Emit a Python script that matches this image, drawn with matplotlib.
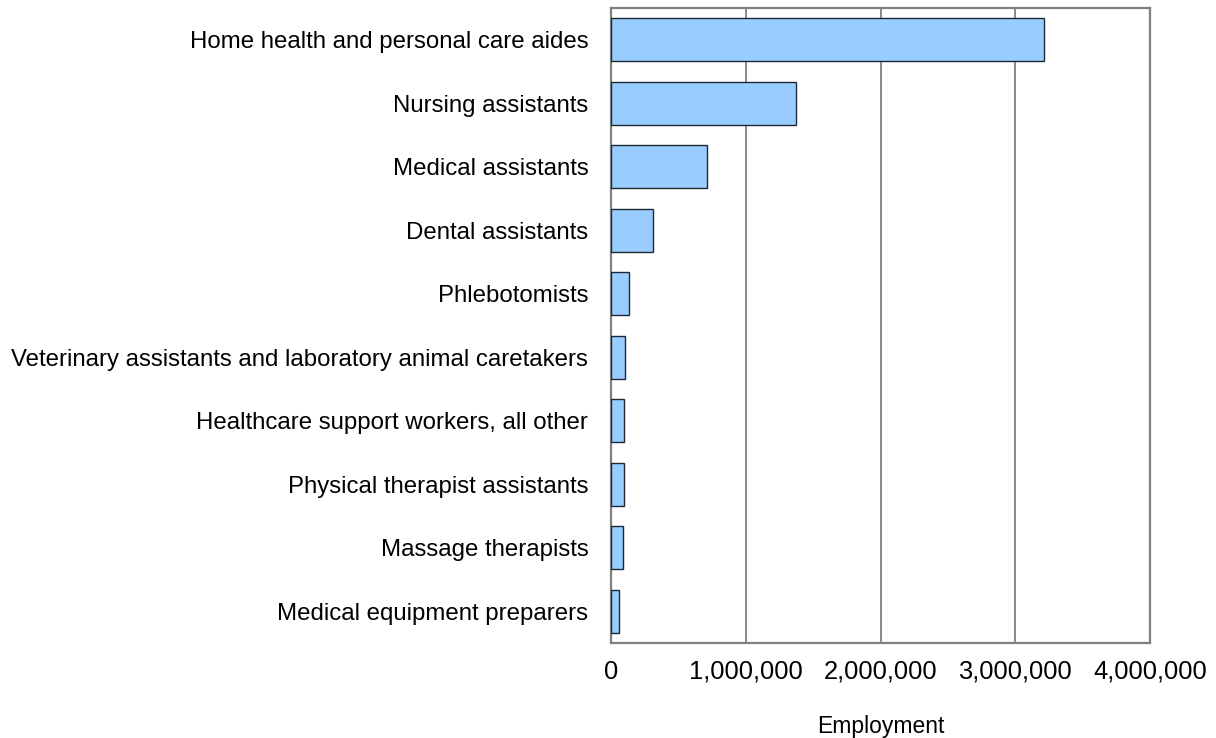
import matplotlib.pyplot as plt
from matplotlib.ticker import FuncFormatter

occupations = [
    "Home health and personal care aides",
    "Nursing assistants",
    "Medical assistants",
    "Dental assistants",
    "Phlebotomists",
    "Veterinary assistants and laboratory animal caretakers",
    "Healthcare support workers, all other",
    "Physical therapist assistants",
    "Massage therapists",
    "Medical equipment preparers",
]
employment = [3210000, 1370000, 710000, 312000, 129000, 102000, 97000, 92000, 87000, 59000]
xticks = [0, 1000000, 2000000, 3000000, 4000000]

plt.rcParams['font.family'] = ['Liberation Sans', 'DejaVu Sans']

fig = plt.figure(figsize=(12.16, 7.38), dpi=100)
ax = fig.add_axes([0.5027, 0.1287, 0.4430, 0.8605])

ypos = list(range(len(occupations)))
ax.barh(ypos, employment, height=0.67, color='#99ccff', edgecolor='#1c2833', linewidth=1, zorder=3)
ax.set_yticks(ypos)
ax.set_yticklabels(occupations, fontsize=17.3)
ax.set_ylim(len(occupations) - 0.5, -0.5)

ax.set_xlim(0, 4000000)
ax.set_xticks(xticks)
ax.xaxis.set_major_formatter(FuncFormatter(lambda v, p: f"{int(v):,}"))
ax.tick_params(axis='x', labelsize=18.4, length=0, pad=12)
ax.tick_params(axis='y', length=0, pad=16.5)
ax.grid(axis='x', color='#808080', linewidth=1.3, zorder=0)

for s in ax.spines.values():
    s.set_color('#808080')
    s.set_linewidth(1.6)

# x axis title sits right at the bottom edge, centred under the plot
fig.text(0.7242, 0.0068, "Employment", fontsize=16.5, ha='center', va='baseline')

fig.savefig("out.png", dpi=100)
